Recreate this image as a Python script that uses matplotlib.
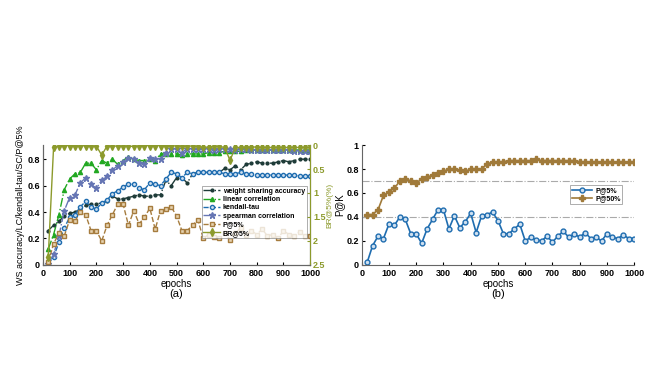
import matplotlib.pyplot as plt
import numpy as np

# epochs sampled every 20
epochs = list(range(20, 1001, 20))

ws_acc = [0.26, 0.30, 0.33, 0.37, 0.39, 0.40, 0.42, 0.45, 0.46, 0.46,
          0.47, 0.48, 0.52, 0.50, 0.50, 0.51, 0.52, 0.53, 0.52, 0.52,
          0.53, 0.53, 0.64, 0.60, 0.66, 0.66, 0.62, 0.69, 0.70, 0.70,
          0.70, 0.70, 0.70, 0.73, 0.72, 0.75, 0.72, 0.76, 0.77, 0.78,
          0.77, 0.77, 0.77, 0.78, 0.79, 0.78, 0.79, 0.80, 0.80, 0.80]
linear_corr = [0.12, 0.23, 0.38, 0.57, 0.65, 0.69, 0.70, 0.77, 0.77, 0.72,
               0.79, 0.77, 0.80, 0.76, 0.79, 0.82, 0.80, 0.79, 0.79, 0.80,
               0.79, 0.84, 0.84, 0.84, 0.84, 0.83, 0.84, 0.84, 0.84, 0.84,
               0.85, 0.85, 0.85, 0.86, 0.86, 0.86, 0.86, 0.87, 0.87, 0.87,
               0.87, 0.87, 0.87, 0.87, 0.87, 0.87, 0.87, 0.87, 0.87, 0.87]
kendall = [0.01, 0.06, 0.17, 0.28, 0.36, 0.38, 0.44, 0.48, 0.44, 0.42,
           0.47, 0.49, 0.54, 0.56, 0.59, 0.61, 0.61, 0.58, 0.57, 0.62,
           0.61, 0.60, 0.65, 0.70, 0.69, 0.66, 0.70, 0.69, 0.70, 0.70,
           0.70, 0.70, 0.70, 0.69, 0.69, 0.69, 0.70, 0.69, 0.69, 0.68,
           0.68, 0.68, 0.68, 0.68, 0.68, 0.68, 0.68, 0.67, 0.67, 0.67]
spearman = [0.01, 0.08, 0.22, 0.41, 0.51, 0.53, 0.62, 0.66, 0.61, 0.58,
            0.64, 0.67, 0.72, 0.75, 0.78, 0.81, 0.80, 0.77, 0.76, 0.81,
            0.80, 0.80, 0.85, 0.88, 0.88, 0.85, 0.88, 0.88, 0.88, 0.88,
            0.88, 0.87, 0.88, 0.88, 0.88, 0.87, 0.88, 0.88, 0.87, 0.87,
            0.87, 0.87, 0.87, 0.87, 0.87, 0.87, 0.86, 0.86, 0.86, 0.86]
p5 = [0.02, 0.16, 0.24, 0.22, 0.34, 0.33, 0.40, 0.38, 0.26, 0.26,
      0.18, 0.30, 0.38, 0.46, 0.46, 0.30, 0.41, 0.31, 0.36, 0.43,
      0.27, 0.41, 0.42, 0.44, 0.37, 0.26, 0.26, 0.30, 0.34, 0.20,
      0.23, 0.21, 0.20, 0.24, 0.19, 0.24, 0.28, 0.23, 0.26, 0.23,
      0.27, 0.22, 0.23, 0.20, 0.26, 0.23, 0.22, 0.25, 0.22, 0.22]
p50 = [0.42, 0.42, 0.46, 0.58, 0.61, 0.64, 0.70, 0.72, 0.70, 0.68,
       0.72, 0.73, 0.75, 0.77, 0.78, 0.80, 0.80, 0.79, 0.78, 0.80,
       0.80, 0.80, 0.84, 0.86, 0.86, 0.86, 0.87, 0.87, 0.87, 0.87,
       0.87, 0.88, 0.87, 0.87, 0.87, 0.87, 0.87, 0.87, 0.87, 0.86,
       0.86, 0.86, 0.86, 0.86, 0.86, 0.86, 0.86, 0.86, 0.86, 0.86]
br5 = [2.33, 0.04, 0.02, 0.01, 0.01, 0.01, 0.02, 0.01, 0.02, 0.02,
       0.21, 0.02, 0.02, 0.02, 0.02, 0.02, 0.03, 0.02, 0.01, 0.01,
       0.01, 0.01, 0.01, 0.01, 0.02, 0.02, 0.02, 0.02, 0.03, 0.05,
       0.04, 0.03, 0.03, 0.05, 0.32, 0.05, 0.05, 0.04, 0.04, 0.04,
       0.05, 0.05, 0.05, 0.05, 0.05, 0.05, 0.05, 0.05, 0.05, 0.05]
pk_refs = [0.7, 0.4]

c_ws = '#1e3b38'
c_lin = '#22a822'
c_ken = '#1f6db0'
c_spe = '#6676b4'
c_p5 = '#a67c3e'
c_br = '#8c9a2c'
c_p50 = '#a07a3a'

plt.rcParams['font.family'] = ['Liberation Sans', 'DejaVu Sans']
plt.rcParams['font.size'] = 6.5
plt.rcParams['font.weight'] = 'bold'

fig = plt.figure(figsize=(6.6, 3.71), dpi=100)

#### (a) ####
ax = fig.add_axes([0.065, 0.286, 0.405, 0.323])
ms = 3
ax.plot(epochs, ws_acc, '-.', color=c_ws, marker='.', ms=ms + 1, lw=1, label='weight sharing accuracy')
ax.plot(epochs, linear_corr, '-.', color=c_lin, marker='^', ms=ms, lw=1, label='linear correlation')
ax.plot(epochs, kendall, '--', color=c_ken, marker='o', ms=ms, mfc='#cfe0f0', lw=1, label='kendall-tau')
ax.plot(epochs, spearman, '-.', color=c_spe, marker='*', ms=ms + 1.5, lw=1, label='spearman correlation')
ax.plot(epochs, p5, '--', color=c_p5, marker='s', ms=ms, mfc='#e6d3b0', lw=1, label='P@5%')
ax.plot([], [], '-', color=c_br, marker='d', ms=ms + 1, lw=1, label='BR@5%')
ax.set_xlim(0, 1000)
ax.set_ylim(0, 0.907)
ax.set_xticks(range(0, 1001, 100))
ax.set_yticks([0, 0.2, 0.4, 0.6, 0.8])
ax.set_yticklabels(['0', '0.2', '0.4', '0.6', '0.8'])
ax.set_xlabel('epochs', fontsize=7, labelpad=1)
ax.set_ylabel('WS accuracy/LC/kendall-tau/SC/P@5%', fontsize=6.5, labelpad=2)
ax.tick_params(direction='in', length=2, pad=2)
ax.tick_params(axis='x', pad=3)
ax.spines['top'].set_visible(False)
ax.text(0.5, -0.2, '(a)', transform=ax.transAxes, ha='center', va='top', fontsize=8, fontweight='normal')

ax2 = ax.twinx()
ax2.plot(epochs, br5, '-', color=c_br, marker='d', ms=ms + 1, lw=1)
ax2.set_ylim(2.5, 0)
ax2.set_yticks([0, 0.5, 1, 1.5, 2, 2.5])
ax2.set_yticklabels(['0', '0.5', '1', '1.5', '2', '2.5'])
ax2.set_ylabel('BR@5%(%)', color=c_br, fontsize=6, labelpad=1)
ax2.tick_params(axis='y', colors=c_br, direction='in', length=2, pad=2)
ax2.spines['right'].set_color(c_br)
ax2.spines['top'].set_visible(False)

leg = ax.legend(loc='center right', bbox_to_anchor=(1.0, 0.44), fontsize=5,
                frameon=True, fancybox=False, edgecolor='#888888',
                handlelength=2.4, handletextpad=0.4, borderpad=0.25, labelspacing=0.2)
leg.get_frame().set_linewidth(0.6)
leg.set_zorder(5)

#### (b) ####
bx = fig.add_axes([0.548, 0.286, 0.413, 0.323])
for r in pk_refs:
    bx.axhline(r, color='#aaaaaa', ls='-.', lw=0.8)
bx.plot(epochs, p5, '-', color=c_ken, marker='o', ms=ms + 0.5, mfc='#cfe0f0', lw=1.2, label='P@5%')
bx.plot(epochs, p50, '-', color=c_p50, marker='P', ms=ms + 1, lw=1.2, label='P@50%')
bx.set_xlim(0, 1000)
bx.set_ylim(0, 1)
bx.set_xticks(range(0, 1001, 100))
bx.set_yticks([0, 0.2, 0.4, 0.6, 0.8, 1])
bx.set_yticklabels(['0', '0.2', '0.4', '0.6', '0.8', '1'])
bx.set_xlabel('epochs', fontsize=7, labelpad=1)
bx.set_ylabel('P@K', fontsize=7)
bx.yaxis.set_label_coords(-0.062, 0.5)
bx.tick_params(direction='in', length=2, pad=2)
bx.tick_params(axis='x', pad=3)
bx.spines['top'].set_visible(False)
bx.spines['right'].set_visible(False)
bx.text(0.5, -0.2, '(b)', transform=bx.transAxes, ha='center', va='top', fontsize=8, fontweight='normal')
leg2 = bx.legend(loc='center', bbox_to_anchor=(0.86, 0.585), fontsize=5,
                 frameon=True, fancybox=False, edgecolor='#888888',
                 handlelength=3, handletextpad=0.4, borderpad=0.25, labelspacing=0.2)
leg2.get_frame().set_linewidth(0.6)

for a in (ax, ax2, bx):
    for s in ('left', 'bottom'):
        a.spines[s].set_color('#666666')
ax2.spines['right'].set_color(c_br)

fig.savefig('out.png', dpi=100)
